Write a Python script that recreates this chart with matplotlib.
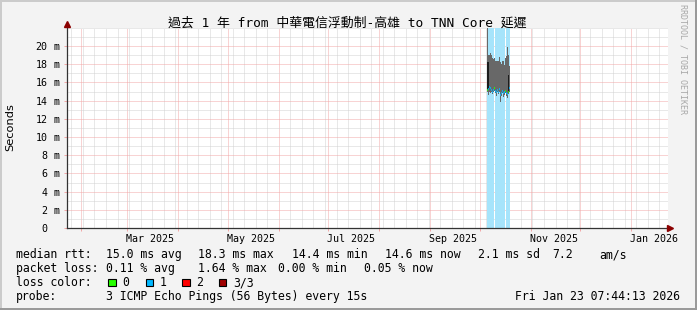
import numpy as np
import pandas as pd
import matplotlib
matplotlib.use("Agg")
import matplotlib.pyplot as plt
import matplotlib.dates as mdates
import matplotlib.transforms as mtrans
from matplotlib.patches import Rectangle
from matplotlib.ticker import FixedLocator, MultipleLocator, NullFormatter

W, H = 697, 310

# time window of the graph (past 1 year)
t_start = pd.Timestamp("2025-01-23 07:44:13")
t_end = pd.Timestamp("2026-01-23 07:44:13")

# 12 hour consolidated samples, values in ms
slot_start = "2025-10-05 12:00"
smoke_hi = [23.0, 19.0, 19.0, 19.1, 19.2, 19.0, 18.7, 18.6, 18.7, 18.5, 18.4, 18.3, 18.4, 18.3,
            18.8, 18.6, 18.2, 18.0, 18.3, 18.4, 18.0, 17.9, 18.7, 18.9, 19.9, 19.0, 17.9, 17.8]
smoke_lo = [15.0, 14.6, 14.9, 14.2, 14.8, 15.0, 14.7, 14.9, 15.1, 14.6, 14.8, 14.5, 14.9, 14.7,
            15.0, 14.6, 13.9, 14.5, 14.8, 14.4, 14.9, 14.6, 14.8, 14.5, 14.3, 14.7, 14.9, 15.0]
dark_hi = [18.2, 18.2, np.nan, np.nan, np.nan, np.nan, np.nan, np.nan, np.nan, np.nan, np.nan, np.nan, np.nan, np.nan,
           np.nan, np.nan, np.nan, np.nan, np.nan, np.nan, np.nan, np.nan, np.nan, np.nan, np.nan, 16.8, 16.8, np.nan]
dark_lo = [15.2, 15.2, np.nan, np.nan, np.nan, np.nan, np.nan, np.nan, np.nan, np.nan, np.nan, np.nan, np.nan, np.nan,
           np.nan, np.nan, np.nan, np.nan, np.nan, np.nan, np.nan, np.nan, np.nan, np.nan, np.nan, 14.8, 14.8, np.nan]
median_rtt = [15.2, 15.3, 15.5, 15.1, 15.4, 15.2, 15.0, 15.2, 15.4, 15.0, 15.1, 14.9, 15.2, 15.0,
              15.3, 14.9, 14.6, 14.8, 15.1, 14.8, 15.2, 14.9, 15.1, 14.8, 14.7, 15.0, 15.2, 15.4]
loss_pings = [0.3, 0.7, 0.8, 0.6, 0.9, 0.7, 0.6, 0.8, 0.0, 0.4, 0.7, 0.8, 0.6, 0.9,
              0.7, 0.4, 0.6, 0.8, 0.7, 0.9, 0.6, 0.8, 0.0, 0.7, 0.6, 0.3, 0.8, 0.7]

y_ticks = [0, 2, 4, 6, 8, 10, 12, 14, 16, 18, 20]
month_labels = ["Mar 2025", "May 2025", "Jul 2025", "Sep 2025", "Nov 2025", "Jan 2026"]
label_dates = ["2025-03-15", "2025-05-15", "2025-07-15", "2025-09-15", "2025-11-15", "2026-01-15"]

loss_names = ["0", "1", "2", "3/3"]
loss_colors = ["#26ff00", "#00b8ff", "#ff0000", "#a00000"]

# legend rows, rrdtool spreads the items of a row (justified)
rtt_items = ["median rtt:", "15.0 ms avg", "18.3 ms max", "14.4 ms min", "14.6 ms now",
             "2.1 ms sd", "7.2", "am/s"]
loss_items = ["packet loss:", "0.11 % avg", "1.64 % max", "0.00 % min", "0.05 % now"]
probe_items = ["probe:", "3 ICMP Echo Pings (56 Bytes) every 15s"]
stamp = "Fri Jan 23 07:44:13 2026"
title = "過去 1 年 from 中華電信浮動制-高雄 to TNN Core 延遲"

MONO = "DejaVu Sans Mono"
GRID_GRAY = "#d2d2d2"
GRID_RED = "#f2a8a8"
AXIS = "#333333"


def fx(px):
    return px / W


def fy(py):
    return 1 - py / H


fig = plt.figure(figsize=(W / 100, H / 100), dpi=100, facecolor="#f3f3f3")
ax = fig.add_axes([fx(67), fy(228), 601 / W, 200.2 / H])
ax.set_facecolor("white")
ax.set_xlim(t_start, t_end)
ax.set_ylim(0, 22)

# grid: weeks (gray), months (red), 1 ms / 2 ms
ax.xaxis.set_major_locator(mdates.MonthLocator())
ax.xaxis.set_minor_locator(mdates.WeekdayLocator(byweekday=mdates.SU))
ax.xaxis.set_major_formatter(NullFormatter())
ax.xaxis.set_minor_formatter(NullFormatter())
ax.yaxis.set_major_locator(FixedLocator(y_ticks))
ax.yaxis.set_minor_locator(MultipleLocator(1))
ax.grid(which="minor", color=GRID_GRAY, lw=0.72, ls=(0, (1, 1)))
ax.grid(which="major", color=GRID_RED, lw=0.72, ls=(0, (1, 1)))
ax.set_axisbelow(True)
ax.tick_params(which="minor", length=0)
ax.tick_params(which="major", length=2.2, width=0.72, color=GRID_RED)
ax.set_yticklabels([f"{v}" for v in y_ticks], fontsize=7.2, family=MONO)
ax.tick_params(axis="y", pad=11.9)

for s in ["top", "right"]:
    ax.spines[s].set_visible(False)
for s in ["left", "bottom"]:
    ax.spines[s].set_color(AXIS)
    ax.spines[s].set_linewidth(0.9)

# unit next to each y label
ytrans = mtrans.blended_transform_factory(fig.transFigure, ax.transData)
for v in y_ticks:
    if v > 0:
        fig.text(fx(53.5), v, "m", transform=ytrans, fontsize=7.2, family=MONO,
                 ha="left", va="center_baseline")

# month labels under the axis
xtrans = mtrans.blended_transform_factory(ax.transData, fig.transFigure)
for d, lab in zip(label_dates, month_labels):
    ax.text(pd.Timestamp(d), fy(241.7), lab, transform=xtrans, fontsize=7.2, family=MONO,
            ha="center", va="baseline")

# samples
slots = pd.date_range(slot_start, periods=len(smoke_hi), freq="12h")
hi = np.array(smoke_hi)
lo = np.array(smoke_lo)
loss = np.array(loss_pings)
step = pd.Timedelta(hours=12)

bg = loss > 0
ax.bar(slots[bg], 22, width=step, bottom=0, align="edge", color="#a6e4fb",
       linewidth=0, antialiased=False, zorder=1)
ax.bar(slots, np.minimum(hi, 22) - lo, width=step, bottom=lo, align="edge",
       color="#686868", linewidth=0, antialiased=False, zorder=2)
dh = np.array(dark_hi)
dl = np.array(dark_lo)
ok = ~np.isnan(dh)
ax.bar(slots[ok], dh[ok] - dl[ok], width=step, bottom=dl[ok], align="edge",
       color="#1c1c1c", linewidth=0, antialiased=False, zorder=2)

med_cols = [loss_colors[int(round(v))] for v in loss]
ax.hlines(median_rtt, slots, slots + step, colors=med_cols, linewidth=1.2, zorder=3)

# arrows on the axes
ax.plot([0], [1.019], marker="^", ms=4.2, color="#8b0000", transform=ax.transAxes,
        clip_on=False, zorder=5)
ax.plot([1.0035], [0], marker=">", ms=4.2, color="#8b0000", transform=ax.transAxes,
        clip_on=False, zorder=5)

# title, y label, watermark
fig.text(fx(347.5), fy(26.3), title, fontsize=9.3, family=[MONO, "Noto Sans CJK TC"],
         ha="center", va="baseline")
fig.text(fx(10), fy(127), "Seconds", rotation=90, fontsize=8.2, family="DejaVu Sans",
         ha="center", va="center")
fig.text(fx(683.5), fy(59), "RRDTOOL / TOBI OETIKER", rotation=270, fontsize=6,
         family=MONO, color="#a8a8a8", ha="center", va="center")

# legend
rows = [
    (258.3, rtt_items, [15.5, 105.5, 198.2, 291.5, 385.0, 478.2, 552.3, 599.0]),
    (272.3, loss_items, [15.5, 106.3, 197.5, 278.3, 364.0]),
    (286.3, ["loss color:"], [15.5]),
    (300.3, probe_items, [15.5, 106.2]),
]
for yb, items, xs in rows:
    for text, x0 in zip(items, xs):
        fig.text(fx(x0), fy(yb), text, fontsize=8.3, family=MONO, ha="left", va="baseline")
fig.text(fx(680), fy(300.3), stamp, fontsize=8.3, family=MONO, ha="right", va="baseline")

box_x = [108.3, 145.6, 182.2, 218.8]
for bx, name, col in zip(box_x, loss_names, loss_colors):
    fig.patches.append(Rectangle((fx(bx), fy(286.3)), 7.6 / W, 7.6 / H, facecolor=col,
                                 edgecolor="black", linewidth=0.8, transform=fig.transFigure))
    fig.text(fx(bx + 14), fy(286.3), name, fontsize=8.3, family=MONO, ha="left", va="baseline")

# 3d frame of the image
fig.patches.append(Rectangle((0, 1 - 2 / H), 1, 2 / H, facecolor="#cbcbcb", linewidth=0,
                             transform=fig.transFigure))
fig.patches.append(Rectangle((0, 0), 2 / W, 1, facecolor="#cbcbcb", linewidth=0,
                             transform=fig.transFigure))
fig.patches.append(Rectangle((1 - 2 / W, 0), 2 / W, 1, facecolor="#9a9a9a", linewidth=0,
                             transform=fig.transFigure))
fig.patches.append(Rectangle((0, 0), 1, 2 / H, facecolor="#9a9a9a", linewidth=0,
                             transform=fig.transFigure))

fig.savefig("out.png", dpi=100, facecolor=fig.get_facecolor())
